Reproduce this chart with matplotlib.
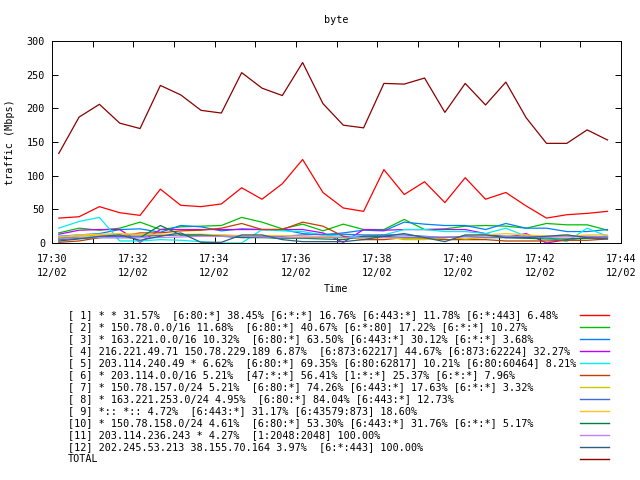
import numpy as np
import matplotlib
matplotlib.use("Agg")
import matplotlib.pyplot as plt
from matplotlib.lines import Line2D

# sample times, minutes after 17:30 (one sample every 30 s, first at 17:30:10)
t_start = 10 / 60.0
n_pts = 28
times = t_start + 0.5 * np.arange(n_pts)

s1 = [37, 39, 54, 45, 41, 80, 56, 54, 58, 82, 65, 88, 124, 75, 52, 47, 109, 72, 91, 60, 97, 65, 75, 55, 37, 42, 44, 47]
s2 = [15, 22, 19, 22, 31, 20, 24, 25, 26, 38, 31, 21, 28, 18, 28, 20, 20, 35, 20, 21, 25, 26, 25, 22, 29, 27, 27, 19]
s3 = [10, 12, 14, 20, 21, 16, 26, 24, 18, 21, 20, 20, 14, 12, 15, 19, 18, 31, 28, 26, 26, 20, 29, 22, 22, 17, 17, 20]
s4 = [13, 19, 20, 20, 1, 20, 20, 20, 20, 20, 20, 20, 20, 15, 1, 20, 19, 20, 20, 20, 20, 14, 8, 14, 0, 5, 8, 10]
s5 = [22, 32, 38, 3, 3, 5, 4, 2, 0, 0, 20, 18, 17, 12, 10, 10, 12, 20, 20, 17, 17, 14, 22, 10, 8, 2, 22, 10]
s6 = [1, 3, 8, 10, 15, 15, 18, 19, 22, 29, 20, 20, 31, 25, 10, 5, 5, 8, 7, 5, 5, 5, 3, 3, 3, 4, 4, 6]
s7 = [8, 10, 12, 12, 12, 11, 13, 11, 12, 10, 10, 9, 8, 10, 8, 8, 10, 5, 5, 9, 6, 8, 10, 10, 10, 12, 8, 7]
s8 = [7, 8, 9, 10, 10, 11, 12, 12, 10, 10, 10, 10, 12, 13, 13, 12, 12, 12, 10, 8, 10, 12, 10, 10, 9, 10, 10, 9]
s9 = [9, 12, 13, 14, 13, 13, 13, 13, 12, 11, 11, 11, 10, 9, 8, 7, 8, 7, 6, 8, 10, 12, 14, 12, 10, 10, 12, 12]
s10 = [5, 7, 8, 8, 8, 26, 12, 12, 10, 8, 8, 7, 7, 6, 5, 10, 10, 8, 8, 8, 10, 8, 8, 7, 6, 6, 7, 8]
s11 = [6, 8, 8, 8, 8, 8, 9, 10, 10, 10, 9, 8, 8, 8, 8, 8, 8, 9, 9, 9, 9, 9, 9, 9, 9, 9, 9, 9]
s12 = [3, 6, 10, 12, 4, 10, 15, 1, 1, 12, 12, 5, 2, 2, 2, 5, 10, 14, 8, 2, 12, 12, 8, 8, 10, 12, 8, 6]
total = [133, 187, 206, 178, 170, 234, 220, 197, 193, 253, 230, 219, 268, 207, 175, 171, 237, 236, 245, 194, 237, 205, 239, 186, 148, 148, 168, 153]

series = [s1, s2, s3, s4, s5, s6, s7, s8, s9, s10, s11, s12, total]
labels = [
    "[ 1] * * 31.57%  [6:80:*] 38.45% [6:*:*] 16.76% [6:443:*] 11.78% [6:*:443] 6.48%",
    "[ 2] * 150.78.0.0/16 11.68%  [6:80:*] 40.67% [6:*:80] 17.22% [6:*:*] 10.27%",
    "[ 3] * 163.221.0.0/16 10.32%  [6:80:*] 63.50% [6:443:*] 30.12% [6:*:*] 3.68%",
    "[ 4] 216.221.49.71 150.78.229.189 6.87%  [6:873:62217] 44.67% [6:873:62224] 32.27%",
    "[ 5] 203.114.240.49 * 6.62%  [6:80:*] 69.35% [6:80:62817] 10.21% [6:80:60464] 8.21%",
    "[ 6] * 203.114.0.0/16 5.21%  [47:*:*] 56.41% [1:*:*] 25.37% [6:*:*] 7.96%",
    "[ 7] * 150.78.157.0/24 5.21%  [6:80:*] 74.26% [6:443:*] 17.63% [6:*:*] 3.32%",
    "[ 8] * 163.221.253.0/24 4.95%  [6:80:*] 84.04% [6:443:*] 12.73%",
    "[ 9] *:: *:: 4.72%  [6:443:*] 31.17% [6:43579:873] 18.60%",
    "[10] * 150.78.158.0/24 4.61%  [6:80:*] 53.30% [6:443:*] 31.76% [6:*:*] 5.17%",
    "[11] 203.114.236.243 * 4.27%  [1:2048:2048] 100.00%",
    "[12] 202.245.53.213 38.155.70.164 3.97%  [6:*:443] 100.00%",
    "TOTAL",
]
colors = ["#ff0000", "#00c000", "#0080ff", "#c000ff", "#00eeee", "#c04000",
          "#c8c800", "#4169e1", "#ffc020", "#008040", "#c080ff", "#306080", "#8b0000"]

tick_min = [0, 2, 4, 6, 8, 10, 12, 14]
tick_text = ["17:30", "17:32", "17:34", "17:36", "17:38", "17:40", "17:42", "17:44"]

W, H = 640, 480
mono = "DejaVu Sans Mono"
fs = 7.3
lw = 0.9

fig = plt.figure(figsize=(6.4, 4.8), dpi=100)
ax = fig.add_axes([52 / W, 1 - 243 / H, (621 - 52) / W, (243 - 41) / H])

for k, (vals, col) in enumerate(zip(series, colors)):
    ax.plot(times, vals, color=col, lw=lw, zorder=2 + k)

ax.set_xlim(0, 14)
ax.set_ylim(0, 300)
ax.set_yticks(range(0, 301, 50))
ax.set_xticks(tick_min)
ax.set_xticks(range(0, 15), minor=True)
ax.set_xticklabels([f"{s}\n12/02" for s in tick_text], fontfamily=mono, fontsize=fs,
                   linespacing=1.5)
for lab in ax.get_yticklabels():
    lab.set_fontfamily(mono)
    lab.set_fontsize(fs)
ax.tick_params(which="both", direction="in", top=True, right=True, length=4, width=0.7,
               color="black")
ax.tick_params(axis="x", pad=8)
ax.tick_params(axis="y", pad=5)
for sp in ax.spines.values():
    sp.set_linewidth(0.7)

fig.text(336 / W, 1 - 20 / H, "byte", ha="center", va="center", fontfamily=mono, fontsize=fs)
fig.text(336 / W, 1 - 289 / H, "Time", ha="center", va="center", fontfamily=mono, fontsize=fs)
fig.text(10 / W, 1 - 142 / H, "traffic (Mbps)", ha="center", va="center", rotation=90,
         fontfamily=mono, fontsize=fs)

# key below the plot
for k, (lab, col) in enumerate(zip(labels, colors)):
    y = 1 - (315 + 12 * k) / H
    fig.text(68 / W, y, lab, ha="left", va="center", fontfamily=mono, fontsize=fs)
    fig.add_artist(Line2D([580 / W, 609 / W], [y, y], color=col, lw=1.0,
                          transform=fig.transFigure))

fig.savefig("out.png", dpi=100)
